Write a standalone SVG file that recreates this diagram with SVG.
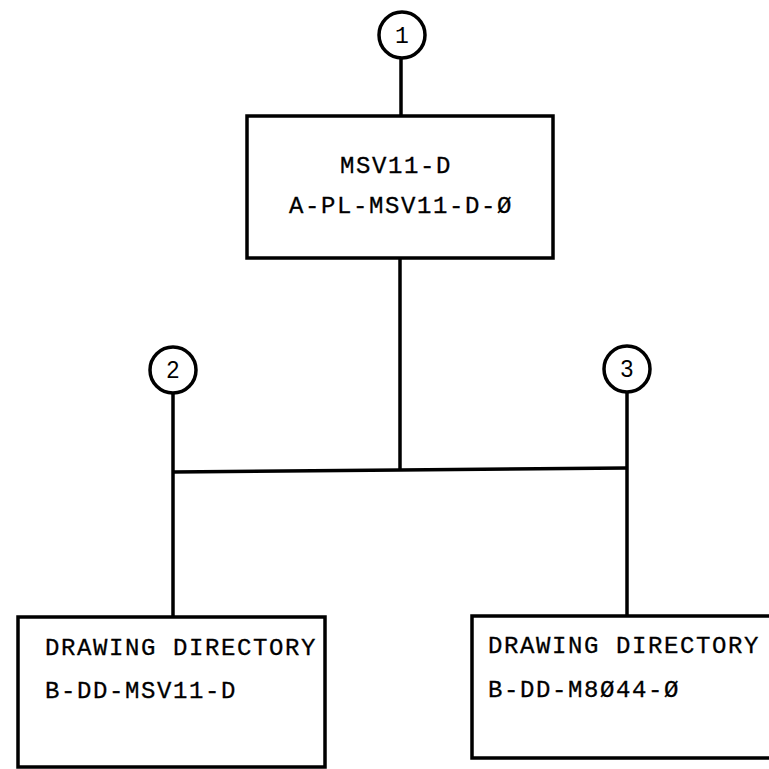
<svg xmlns="http://www.w3.org/2000/svg" width="769" height="769" viewBox="0 0 769 769">
  <style>
    .box { fill: none; stroke: #000; stroke-width: 3.5; }
    .conn { fill: none; stroke: #000; stroke-width: 3.5; }
    .circ { fill: #fff; stroke: #000; stroke-width: 3.5; }
    .tw { font-family: "Liberation Mono", "DejaVu Sans Mono", monospace; font-size: 24px; letter-spacing: 1.6px; fill: #000; stroke: #000; stroke-width: 0.3; }
    .num { font-family: "Liberation Sans", Arial, sans-serif; font-size: 23px; fill: #000; text-anchor: middle; }
    .num1 { font-family: "Liberation Mono", monospace; font-size: 23px; fill: #000; text-anchor: middle; }
  </style>
  <rect width="769" height="769" fill="#fff"/>
  <g id="connectors">
    <line class="conn" x1="401" y1="58" x2="401" y2="116"/>
    <line class="conn" x1="400" y1="258" x2="400" y2="470"/>
    <polyline class="conn" points="173,472 400,470 627,468"/>
    <line class="conn" x1="173" y1="393" x2="173" y2="617"/>
    <line class="conn" x1="627" y1="392" x2="627" y2="616"/>
  </g>
  <g id="ref1">
    <circle class="circ" cx="402" cy="35" r="23"/>
    <text class="num1" x="402" y="43">1</text>
  </g>
  <g id="ref2">
    <circle class="circ" cx="173" cy="370" r="23"/>
    <text class="num" x="173" y="378">2</text>
  </g>
  <g id="ref3">
    <circle class="circ" cx="627" cy="369" r="23"/>
    <text class="num" x="627" y="377">3</text>
  </g>
  <g id="msv11d">
    <rect class="box" x="247" y="116" width="306" height="142"/>
    <text class="tw" x="340" y="173">MSV11-D</text>
    <text class="tw" x="289" y="213">A-PL-MSV11-D-Ø</text>
  </g>
  <g id="dd-msv11d">
    <rect class="box" x="18" y="617" width="307" height="150"/>
    <text class="tw" x="45" y="655">DRAWING DIRECTORY</text>
    <text class="tw" x="45" y="698">B-DD-MSV11-D</text>
  </g>
  <g id="dd-m8044">
    <path class="box" d="M 775 616 L 472 616 L 472 758 L 775 758"/>
    <text class="tw" x="488" y="653">DRAWING DIRECTORY</text>
    <text class="tw" x="488" y="697">B-DD-M8Ø44-Ø</text>
  </g>
</svg>
